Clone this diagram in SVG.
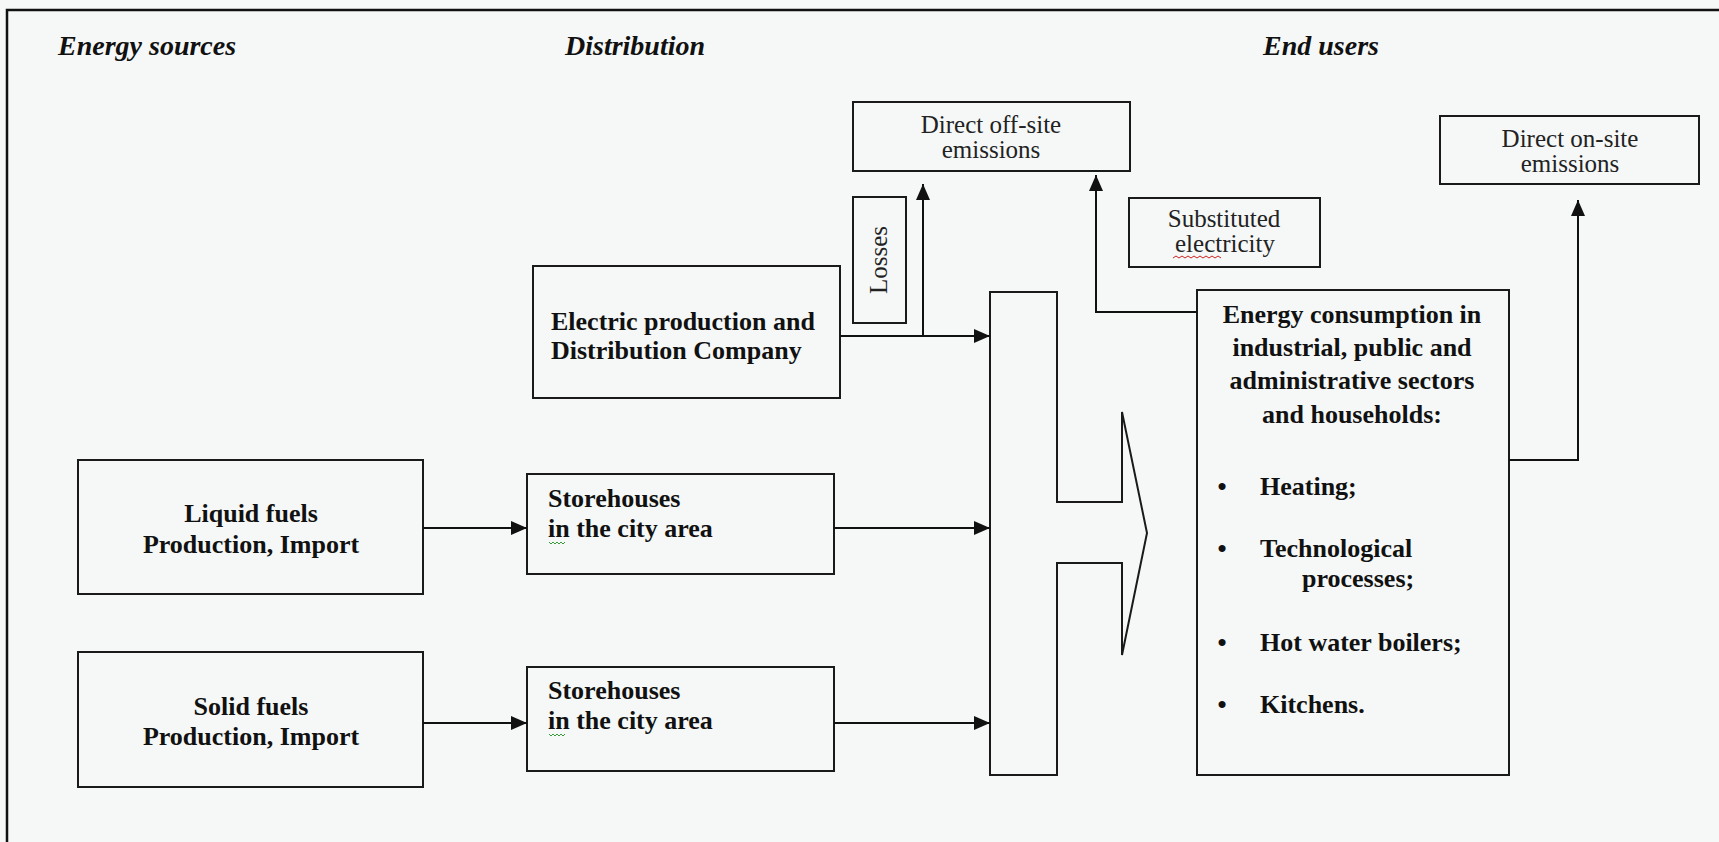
<svg xmlns="http://www.w3.org/2000/svg" width="1719" height="842" viewBox="0 0 1719 842">
  <defs>
    <marker id="arr" viewBox="0 0 16 14" refX="16" refY="7" markerWidth="16" markerHeight="14" markerUnits="userSpaceOnUse" orient="auto">
      <path d="M0,0 L16,7 L0,14 Z" fill="#111"/>
    </marker>
    <style>
      .box { fill: none; stroke: #1a1a1a; stroke-width: 2; }
      .line { fill: none; stroke: #111; stroke-width: 2; }
      .hdr { font-family: "Liberation Serif", "Times New Roman", serif; font-size: 28px; font-weight: bold; font-style: italic; fill: #111; }
      .b { font-family: "Liberation Serif", "Times New Roman", serif; font-size: 26px; font-weight: bold; fill: #111; }
      .r { font-family: "Liberation Serif", "Times New Roman", serif; font-size: 25px; fill: #222; }
      .c { text-anchor: middle; }
    </style>
  </defs>
  <rect x="0" y="0" width="1719" height="842" fill="#f5f8f7"/>
  <path d="M7,842 L7,10 L1719,10" fill="none" stroke="#111" stroke-width="2.5"/>

  <g id="headers">
    <text class="hdr" x="58" y="55">Energy sources</text>
    <text class="hdr" x="565" y="55">Distribution</text>
    <text class="hdr" x="1263" y="55">End users</text>
  </g>

  <g id="node-electric">
    <rect class="box" x="533" y="266" width="307" height="132"/>
    <text class="b" x="551" y="330">Electric production and</text>
    <text class="b" x="551" y="359">Distribution Company</text>
  </g>

  <g id="node-losses">
    <rect class="box" x="853" y="197" width="53" height="126"/>
    <text class="r c" font-size="21" transform="translate(887,260) rotate(-90)" x="0" y="0">Losses</text>
  </g>

  <g id="node-offsite">
    <rect class="box" x="853" y="102" width="277" height="69"/>
    <text class="r c" x="991" y="133">Direct off-site</text>
    <text class="r c" x="991" y="158">emissions</text>
  </g>

  <g id="node-substituted">
    <rect class="box" x="1129" y="198" width="191" height="69"/>
    <text class="r c" x="1224" y="227">Substituted</text>
    <text class="r c" x="1225" y="252">electricity</text>
    <path d="M1173,258 l3,-2 l3,2 l3,-2 l3,2 l3,-2 l3,2 l3,-2 l3,2 l3,-2 l3,2 l3,-2 l3,2 l3,-2 l3,2 l3,-2 l3,2" fill="none" stroke="#d02020" stroke-width="1"/>
  </g>

  <g id="node-onsite">
    <rect class="box" x="1440" y="116" width="259" height="68"/>
    <text class="r c" x="1570" y="147">Direct on-site</text>
    <text class="r c" x="1570" y="172">emissions</text>
  </g>

  <g id="node-liquid">
    <rect class="box" x="78" y="460" width="345" height="134"/>
    <text class="b c" x="251" y="522">Liquid fuels</text>
    <text class="b c" x="251" y="553">Production, Import</text>
  </g>

  <g id="node-solid">
    <rect class="box" x="78" y="652" width="345" height="135"/>
    <text class="b c" x="251" y="715">Solid fuels</text>
    <text class="b c" x="251" y="745">Production, Import</text>
  </g>

  <g id="node-store1">
    <rect class="box" x="527" y="474" width="307" height="100"/>
    <text class="b" x="548" y="507">Storehouses</text>
    <text class="b" x="548" y="537">in the city area</text>
    <path d="M549,542 l2,2 l2,-2 l2,2 l2,-2 l2,2 l2,-2 l2,2 l2,-2" fill="none" stroke="#3a9a3a" stroke-width="1"/>
  </g>

  <g id="node-store2">
    <rect class="box" x="527" y="667" width="307" height="104"/>
    <text class="b" x="548" y="699">Storehouses</text>
    <text class="b" x="548" y="729">in the city area</text>
    <path d="M549,734 l2,2 l2,-2 l2,2 l2,-2 l2,2 l2,-2 l2,2 l2,-2" fill="none" stroke="#3a9a3a" stroke-width="1"/>
  </g>

  <g id="node-merger">
    <path class="box" d="M1122,502 L1122,412 L1147,533 L1122,655 L1122,563 L1057,563 L1057,775 L990,775 L990,292 L1057,292 L1057,502 Z"/>
  </g>

  <g id="node-consumption">
    <rect class="box" x="1197" y="290" width="312" height="485"/>
    <text class="b c" x="1352" y="323">Energy consumption in</text>
    <text class="b c" x="1352" y="356">industrial, public and</text>
    <text class="b c" x="1352" y="389">administrative sectors</text>
    <text class="b c" x="1352" y="423">and households:</text>
    <text class="b c" x="1222" y="495">•</text>
    <text class="b" x="1260" y="495">Heating;</text>
    <text class="b c" x="1222" y="557">•</text>
    <text class="b" x="1260" y="557">Technological</text>
    <text class="b" x="1302" y="587">processes;</text>
    <text class="b c" x="1222" y="651">•</text>
    <text class="b" x="1260" y="651">Hot water boilers;</text>
    <text class="b c" x="1222" y="713">•</text>
    <text class="b" x="1260" y="713">Kitchens.</text>
  </g>

  <g id="connectors">
    <path class="line" d="M423,528 L527,528" marker-end="url(#arr)"/>
    <path class="line" d="M423,723 L527,723" marker-end="url(#arr)"/>
    <path class="line" d="M834,528 L990,528" marker-end="url(#arr)"/>
    <path class="line" d="M834,723 L990,723" marker-end="url(#arr)"/>
    <path class="line" d="M840,336 L990,336" marker-end="url(#arr)"/>
    <path class="line" d="M923,336 L923,184" marker-end="url(#arr)"/>
    <path class="line" d="M1197,312 L1096,312 L1096,175" marker-end="url(#arr)"/>
    <path class="line" d="M1509,460 L1578,460 L1578,200" marker-end="url(#arr)"/>
  </g>
</svg>
